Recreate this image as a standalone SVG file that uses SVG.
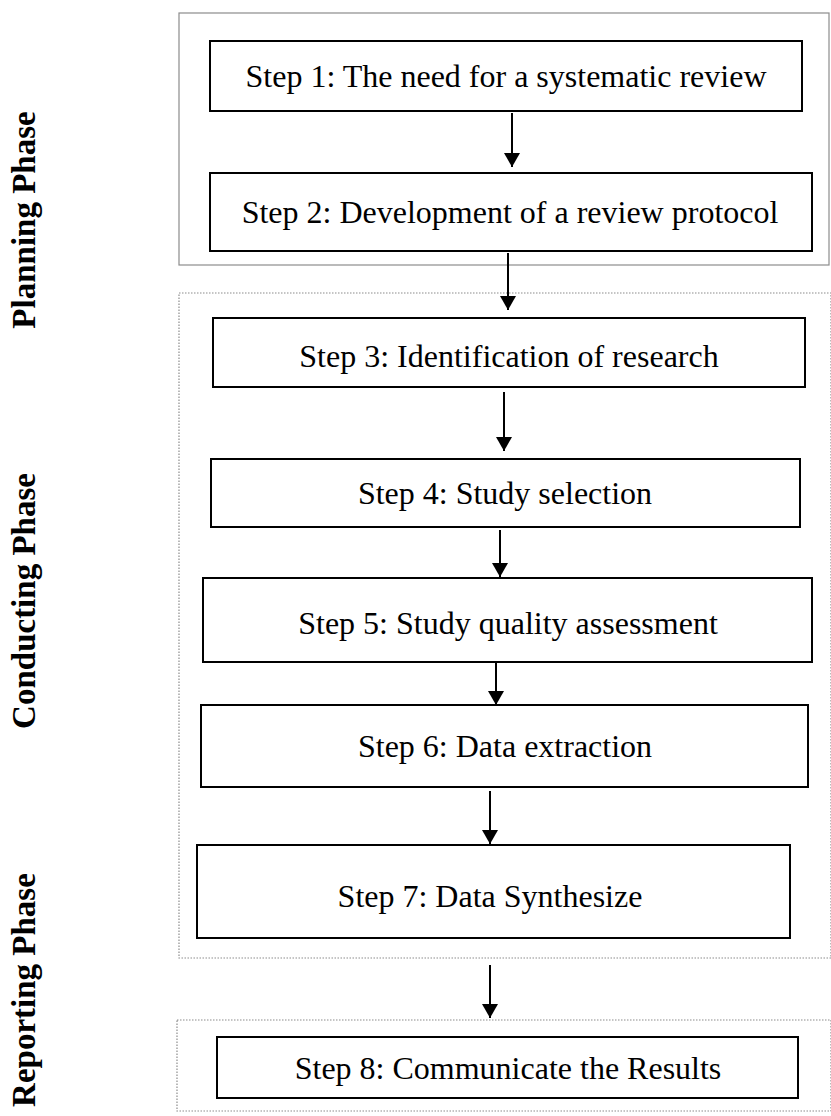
<svg xmlns="http://www.w3.org/2000/svg" width="831" height="1116" viewBox="0 0 831 1116">
<style>
.phase{fill:none;stroke:#8c8c8c;stroke-width:1.2}
.dot{stroke-dasharray:1.5 1.5}
.step{fill:#fff;stroke:#000;stroke-width:2}
.t{font-family:"Liberation Serif",serif;font-size:32px;fill:#000;text-anchor:middle}
.pl{font-family:"Liberation Serif",serif;font-size:33px;font-weight:bold;fill:#000;text-anchor:middle}
.c{stroke:#000;stroke-width:2;fill:none}
</style>
<defs>
<marker id="ah" viewBox="0 0 14 16" refX="14" refY="8" markerWidth="14" markerHeight="16" orient="auto" markerUnits="userSpaceOnUse">
<path d="M0,0 L14,8 L0,16 Z" fill="#000"/>
</marker>
</defs>
<rect width="831" height="1116" fill="#fff"/>
<g id="planning-phase">
<rect class="phase" x="179" y="13" width="650" height="252"/>
<text class="pl" transform="translate(35,220) rotate(-90)">Planning Phase</text>
</g>
<g id="conducting-phase">
<rect class="phase dot" x="179" y="293" width="652" height="665"/>
<text class="pl" transform="translate(35,601) rotate(-90)">Conducting Phase</text>
</g>
<g id="reporting-phase">
<rect class="phase dot" x="177" y="1020" width="654" height="91"/>
<text class="pl" transform="translate(35,990) rotate(-90)">Reporting Phase</text>
</g>
<g id="step1"><rect class="step" x="210" y="41" width="592" height="70"/><text class="t" x="506" y="87">Step 1: The need for a systematic review</text></g>
<g id="step2"><rect class="step" x="210" y="173" width="602" height="78"/><text class="t" x="510" y="223">Step 2: Development of a review protocol</text></g>
<g id="step3"><rect class="step" x="213" y="318" width="592" height="69"/><text class="t" x="509" y="367">Step 3: Identification of research</text></g>
<g id="step4"><rect class="step" x="211" y="459" width="589" height="68"/><text class="t" x="505" y="504">Step 4: Study selection</text></g>
<g id="step5"><rect class="step" x="203" y="578" width="609" height="84"/><text class="t" x="508" y="634">Step 5: Study quality assessment</text></g>
<g id="step6"><rect class="step" x="201" y="705" width="607" height="82"/><text class="t" x="505" y="757">Step 6: Data extraction</text></g>
<g id="step7"><rect class="step" x="197" y="845" width="593" height="93"/><text class="t" x="490" y="907">Step 7: Data Synthesize</text></g>
<g id="step8"><rect class="step" x="217" y="1037" width="581" height="61"/><text class="t" x="508" y="1079">Step 8: Communicate the Results</text></g>
<g id="connectors">
<line class="c" x1="512" y1="113" x2="512" y2="167" marker-end="url(#ah)"/>
<line class="c" x1="508" y1="253" x2="508" y2="310" marker-end="url(#ah)"/>
<line class="c" x1="504" y1="392" x2="504" y2="451" marker-end="url(#ah)"/>
<line class="c" x1="500" y1="530" x2="500" y2="577" marker-end="url(#ah)"/>
<line class="c" x1="496" y1="663" x2="496" y2="705" marker-end="url(#ah)"/>
<line class="c" x1="490" y1="791" x2="490" y2="844" marker-end="url(#ah)"/>
<line class="c" x1="490" y1="965" x2="490" y2="1018" marker-end="url(#ah)"/>
</g>
</svg>
